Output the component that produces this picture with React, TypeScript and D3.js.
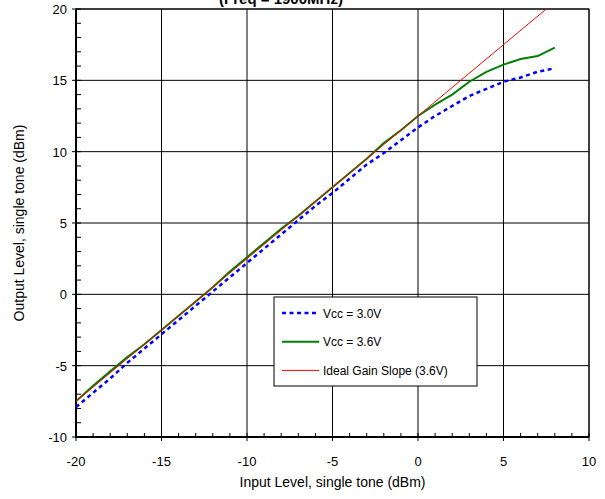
import * as d3 from "d3";

// input level (dBm)
const inputLevels = [-20, -19, -18, -17, -16, -15, -14, -13, -12, -11, -10, -9, -8, -7, -6, -5, -4, -3, -2, -1, 0, 1, 2, 3, 4, 5, 6, 7, 8];
// output level, Vcc = 3.0V
const vcc30 = [-7.9, -6.9, -5.9, -4.8, -3.8, -2.8, -1.8, -0.8, 0.2, 1.2, 2.2, 3.2, 4.2, 5.2, 6.2, 7.1, 8.1, 9.1, 9.9, 10.8, 11.7, 12.5, 13.2, 13.9, 14.4, 14.9, 15.2, 15.6, 15.85];
// output level, Vcc = 3.6V
const vcc36 = [-7.5, -6.4, -5.4, -4.4, -3.5, -2.5, -1.5, -0.5, 0.5, 1.6, 2.6, 3.6, 4.6, 5.5, 6.5, 7.5, 8.5, 9.5, 10.6, 11.5, 12.5, 13.3, 14.0, 14.9, 15.6, 16.1, 16.5, 16.7, 17.3];
// ideal gain slope endpoints
const idealIn = [-20, 8];
const idealOut = [-7.5, 20.5];

const xTicks = [-20, -15, -10, -5, 0, 5, 10];
const yTicks = [-10, -5, 0, 5, 10, 15, 20];
const legendLabels = ["Vcc = 3.0V", "Vcc = 3.6V", "Ideal Gain Slope (3.6V)"];

const W = 605, H = 499;
const m = { left: 76, right: 16, top: 9, bottom: 62 };
const font = "'Liberation Sans', Arial, sans-serif";

export default function App() {
  const x = d3.scaleLinear().domain([-20, 10]).range([m.left, W - m.right]);
  const y = d3.scaleLinear().domain([-10, 20]).range([H - m.bottom, m.top]);

  const line = d3.line<[number, number]>().x(d => x(d[0])).y(d => y(d[1]));
  const blue = line(inputLevels.map((v, i) => [v, vcc30[i]]) as [number, number][]);
  const green = line(inputLevels.map((v, i) => [v, vcc36[i]]) as [number, number][]);
  const red = line(idealIn.map((v, i) => [v, idealOut[i]]) as [number, number][]);

  const minorX = d3.range(-20, 10.5, 1);
  const minorY = d3.range(-10, 20.5, 1);

  const lx = 274, ly = 297, lw = 203, lh = 89;
  const styles = [
    { stroke: "#0000ff", width: 2.5, dash: "4 3.5" },
    { stroke: "#008000", width: 2, dash: "" },
    { stroke: "#ff0000", width: 1, dash: "" },
  ];

  return (
    <svg width={W} height={H} style={{ position: "absolute", left: 0, top: 0, background: "#fff" }} fontFamily={font}>
      <defs>
        <clipPath id="plot">
          <rect x={x(-20)} y={y(20)} width={x(10) - x(-20)} height={y(-10) - y(20)} />
        </clipPath>
      </defs>
      <text x={281} y={4} textAnchor="middle" fontSize={15} fontWeight="bold">(Freq = 1900MHz)</text>

      {/* grid */}
      {xTicks.map(t => (
        <line key={"gx" + t} x1={x(t)} x2={x(t)} y1={y(-10)} y2={y(20)} stroke="#000" strokeWidth={1} />
      ))}
      {yTicks.map(t => (
        <line key={"gy" + t} x1={x(-20)} x2={x(10)} y1={y(t)} y2={y(t)} stroke="#000" strokeWidth={1} />
      ))}
      {/* minor ticks */}
      {minorX.map(t => (
        <line key={"mx" + t} x1={x(t)} x2={x(t)} y1={y(-10)} y2={y(-10) - 4} stroke="#000" />
      ))}
      {minorY.map(t => (
        <line key={"my" + t} x1={x(-20)} x2={x(-20) + 5} y1={y(t)} y2={y(t)} stroke="#000" />
      ))}
      <rect x={x(-20)} y={y(20)} width={x(10) - x(-20)} height={y(-10) - y(20)} fill="none" stroke="#000" strokeWidth={1} />
      <line x1={x(-20)} x2={x(-20)} y1={y(20)} y2={y(-10) + 1} stroke="#000" strokeWidth={2} />
      <line x1={x(-20) - 1} x2={x(10)} y1={y(-10)} y2={y(-10)} stroke="#000" strokeWidth={2} />
      {xTicks.map(t => (
        <line key={"tx" + t} x1={x(t)} x2={x(t)} y1={y(-10)} y2={y(-10) + 4} stroke="#000" />
      ))}
      {yTicks.map(t => (
        <line key={"ty" + t} x1={x(-20) - 4} x2={x(-20)} y1={y(t)} y2={y(t)} stroke="#000" />
      ))}

      {/* series */}
      <g clipPath="url(#plot)">
        <path d={blue || ""} fill="none" stroke="#0000ff" strokeWidth={2.5} strokeDasharray="4 3.5" />
        <path d={green || ""} fill="none" stroke="#008000" strokeWidth={2} />
        <path d={red || ""} fill="none" stroke="#ff0000" strokeWidth={1} />
      </g>

      {/* tick labels */}
      {xTicks.map(t => (
        <text key={"lx" + t} x={x(t)} y={y(-10) + 29} textAnchor="middle" fontSize={13}>{t}</text>
      ))}
      {yTicks.map(t => (
        <text key={"ly" + t} x={x(-20) - 9} y={y(t) + 5} textAnchor="end" fontSize={13}>{t}</text>
      ))}
      <text x={(x(-20) + x(10)) / 2} y={487} textAnchor="middle" fontSize={14}>Input Level, single tone (dBm)</text>
      <text transform={`translate(24,${(y(-10) + y(20)) / 2}) rotate(-90)`} textAnchor="middle" fontSize={14}>Output Level, single tone (dBm)</text>

      {/* legend */}
      <rect x={lx} y={ly} width={lw} height={lh} fill="#fff" stroke="#000" strokeWidth={1} />
      {legendLabels.map((lab, i) => {
        const yy = ly + 16 + i * 28.7;
        const s = styles[i];
        return (
          <g key={lab}>
            <line x1={lx + 8} x2={lx + 45} y1={yy} y2={yy} stroke={s.stroke} strokeWidth={s.width} strokeDasharray={s.dash} />
            <text x={lx + 49} y={yy + 4.5} fontSize={12}>{lab}</text>
          </g>
        );
      })}
    </svg>
  );
}
